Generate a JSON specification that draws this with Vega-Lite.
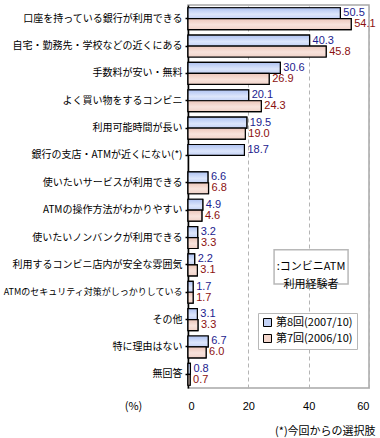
{
  "$schema": "https://vega.github.io/schema/vega-lite/v6.json",
  "width": 181,
  "height": 383,
  "autosize": "none",
  "padding": {"left": 188, "top": 5, "right": 11, "bottom": 50},
  "background": "white",
  "config": {
    "view": {"stroke": "#a8a8a8", "strokeWidth": 1.5},
    "font": "Noto Sans CJK JP"
  },
  "title": {
    "text": "(*)今回からの選択肢",
    "orient": "bottom",
    "anchor": "end",
    "fontSize": 11,
    "fontWeight": "normal",
    "font": "Noto Sans CJK JP",
    "color": "black",
    "offset": 15
  },
  "data": {
    "values": [
      {"item": "口座を持っている銀行が利用できる", "series": "第8回(2007/10)", "value": 50.5},
      {"item": "口座を持っている銀行が利用できる", "series": "第7回(2006/10)", "value": 54.1},
      {"item": "自宅・勤務先・学校などの近くにある", "series": "第8回(2007/10)", "value": 40.3},
      {"item": "自宅・勤務先・学校などの近くにある", "series": "第7回(2006/10)", "value": 45.8},
      {"item": "手数料が安い・無料", "series": "第8回(2007/10)", "value": 30.6},
      {"item": "手数料が安い・無料", "series": "第7回(2006/10)", "value": 26.9},
      {"item": "よく買い物をするコンビニ", "series": "第8回(2007/10)", "value": 20.1},
      {"item": "よく買い物をするコンビニ", "series": "第7回(2006/10)", "value": 24.3},
      {"item": "利用可能時間が長い", "series": "第8回(2007/10)", "value": 19.5},
      {"item": "利用可能時間が長い", "series": "第7回(2006/10)", "value": 19.0},
      {"item": "銀行の支店・ATMが近くにない(*)", "series": "第8回(2007/10)", "value": 18.7},
      {"item": "使いたいサービスが利用できる", "series": "第8回(2007/10)", "value": 6.6},
      {"item": "使いたいサービスが利用できる", "series": "第7回(2006/10)", "value": 6.8},
      {"item": "ATMの操作方法がわかりやすい", "series": "第8回(2007/10)", "value": 4.9},
      {"item": "ATMの操作方法がわかりやすい", "series": "第7回(2006/10)", "value": 4.6},
      {"item": "使いたいノンバンクが利用できる", "series": "第8回(2007/10)", "value": 3.2},
      {"item": "使いたいノンバンクが利用できる", "series": "第7回(2006/10)", "value": 3.3},
      {"item": "利用するコンビニ店内が安全な雰囲気", "series": "第8回(2007/10)", "value": 2.2},
      {"item": "利用するコンビニ店内が安全な雰囲気", "series": "第7回(2006/10)", "value": 3.1},
      {"item": "ATMのセキュリティ対策がしっかりしている", "series": "第8回(2007/10)", "value": 1.7},
      {"item": "ATMのセキュリティ対策がしっかりしている", "series": "第7回(2006/10)", "value": 1.7},
      {"item": "その他", "series": "第8回(2007/10)", "value": 3.1},
      {"item": "その他", "series": "第7回(2006/10)", "value": 3.3},
      {"item": "特に理由はない", "series": "第8回(2007/10)", "value": 6.7},
      {"item": "特に理由はない", "series": "第7回(2006/10)", "value": 6.0},
      {"item": "無回答", "series": "第8回(2007/10)", "value": 0.8},
      {"item": "無回答", "series": "第7回(2006/10)", "value": 0.7}
    ]
  },
  "encoding": {
    "y": {
      "field": "item",
      "type": "nominal",
      "sort": null,
      "scale": {"paddingInner": 0.2, "paddingOuter": 0.1},
      "axis": {
        "title": null,
        "labelFontSize": {
          "condition": {"test": "length(datum.label) > 18", "value": 9},
          "value": 10
        },
        "labelColor": "black",
        "labelFont": "Noto Sans CJK JP",
        "labelLimit": 200,
        "labelPadding": 3,
        "domainColor": "black",
        "domainWidth": 1.5,
        "tickColor": "black",
        "tickSize": 3,
        "tickWidth": 1.5
      }
    },
    "yOffset": {
      "field": "series",
      "type": "nominal",
      "sort": ["第8回(2007/10)", "第7回(2006/10)"],
      "scale": {"paddingInner": 0, "paddingOuter": 0}
    },
    "x": {
      "field": "value",
      "type": "quantitative",
      "scale": {"domain": [0, 60], "nice": false},
      "axis": {
        "values": [0, 20, 40, 60],
        "grid": true,
        "gridDash": [4, 3],
        "gridColor": "#b4b4b4",
        "domain": false,
        "ticks": false,
        "labelFontSize": 11,
        "labelFont": "Liberation Sans",
        "labelColor": "black",
        "labelPadding": 12,
        "title": "(%)",
        "titleFont": "Noto Sans CJK JP",
        "titleFontSize": 11,
        "titleFontWeight": "normal",
        "titleColor": "black",
        "titleX": -55,
        "titleY": 12,
        "titleBaseline": "top",
        "titleAlign": "center"
      }
    }
  },
  "layer": [
    {
      "mark": {"type": "bar", "stroke": "black", "strokeWidth": 1.2},
      "encoding": {
        "color": {
          "field": "series",
          "type": "nominal",
          "scale": {
            "domain": ["第8回(2007/10)", "第7回(2006/10)"],
            "range": ["#c3d2f6", "#f3d6cc"]
          },
          "legend": {
            "title": null,
            "orient": "none",
            "legendX": 70,
            "legendY": 308,
            "strokeColor": "#b8b8b8",
            "fillColor": "white",
            "padding": 4,
            "symbolType": "square",
            "symbolSize": 64,
            "symbolStrokeColor": "black",
            "symbolStrokeWidth": 1,
            "symbolOpacity": 1,
            "labelFontSize": 11,
            "labelFont": "Noto Sans CJK JP",
            "labelColor": "black",
            "labelOffset": 3,
            "rowPadding": 3
          }
        }
      }
    },
    {
      "mark": {"type": "bar", "stroke": "black", "strokeWidth": 1.2},
      "encoding": {
        "fill": {
          "condition": {
            "test": "datum.series === '第8回(2007/10)'",
            "value": {"gradient": "linear", "x1": 0, "y1": 0, "x2": 0, "y2": 1, "stops": [{"offset": 0, "color": "#aec2f2"}, {"offset": 0.6, "color": "#dde6fb"}, {"offset": 1, "color": "#c2d1f6"}]}
          },
          "value": {"gradient": "linear", "x1": 0, "y1": 0, "x2": 0, "y2": 1, "stops": [{"offset": 0, "color": "#ecc6ba"}, {"offset": 0.55, "color": "#f8e3dc"}, {"offset": 1, "color": "#f0d2c8"}]}
        }
      }
    },
    {
      "mark": {"type": "text", "align": "left", "baseline": "middle", "dx": 3, "font": "Liberation Sans", "fontSize": 11},
      "encoding": {
        "text": {"field": "value", "type": "quantitative", "format": ".1f"},
        "color": {
          "condition": {"test": "datum.series === '第8回(2007/10)'", "value": "#1c1c8e"},
          "value": "#8b1010"
        }
      }
    },
    {
      "data": {"values": [{"item": "利用するコンビニ店内が安全な雰囲気", "x": 40.8, "note": ":コンビニATM\n利用経験者"}]},
      "layer": [
        {
          "mark": {"type": "point", "shape": "M-1,-0.46L1,-0.46L1,0.46L-1,0.46Z", "size": 5476, "filled": true, "fill": "white", "stroke": "#b8b8b8", "strokeWidth": 1.5, "opacity": 1, "yOffset": 2},
          "encoding": {
            "x": {"field": "x", "type": "quantitative"},
            "y": {"field": "item", "type": "nominal", "sort": null},
            "yOffset": null
          }
        },
        {
          "mark": {"type": "text", "align": "center", "baseline": "middle", "lineBreak": "\n", "lineHeight": 18, "fontSize": 11, "font": "Noto Sans CJK JP", "color": "black", "yOffset": 2},
          "encoding": {
            "x": {"field": "x", "type": "quantitative"},
            "y": {"field": "item", "type": "nominal", "sort": null},
            "yOffset": null,
            "text": {"field": "note"}
          }
        }
      ]
    }
  ]
}
